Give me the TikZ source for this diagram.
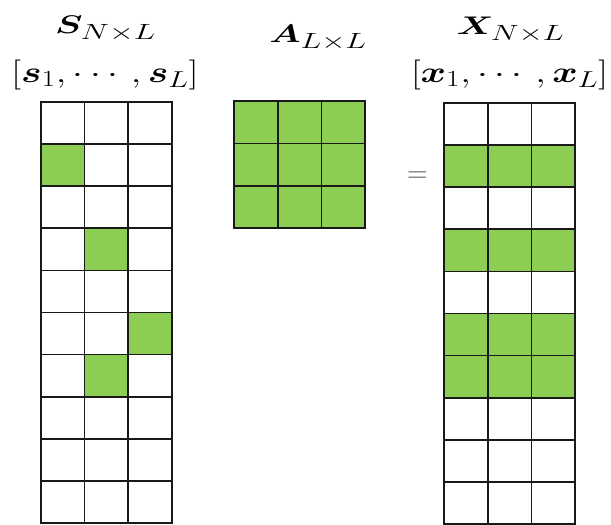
\RequirePackage{fix-cm}
\documentclass[tikz,border=0pt]{standalone}
\usepackage{amsmath,bm,graphicx}
\DeclareMathSizes{25.5}{25.5}{22}{17}
\DeclareMathSizes{30}{30}{23}{18}
\definecolor{cellgreen}{RGB}{140,206,84}
\definecolor{gridline}{RGB}{25,25,25}
\tikzset{
  gridcell/.style={draw=gridline,line width=1.7pt},
  greencell/.style={gridcell,fill=cellgreen},
  namelbl/.style={inner sep=0pt,anchor=base,font=\fontsize{25.5}{30}\selectfont},
  collbl/.style={inner sep=0pt,anchor=base,font=\fontsize{30}{34}\selectfont}
}
\newcommand{\hstretch}[2]{\scalebox{#1}[1]{#2}}
\begin{document}
\begin{tikzpicture}[x=1pt,y=-1pt]
\useasboundingbox (0,0) rectangle (611,525);
% ---------- S matrix (10 x 3) ----------
\def\cw{43.6}\def\rh{42.1}
\foreach \r in {0,...,9}{
  \foreach \c in {0,1,2}{
    \draw[gridcell] ({41+\c*\cw},{102+\r*\rh}) rectangle ++(\cw,\rh);
  }
}
\foreach \r/\c in {1/0,3/1,5/2,6/1}{
  \draw[greencell] ({41+\c*\cw},{102+\r*\rh}) rectangle ++(\cw,\rh);
}
% ---------- A matrix (3 x 3) ----------
\foreach \r in {0,1,2}{
  \foreach \c in {0,1,2}{
    \draw[greencell] ({234+\c*43.7},{101+\r*42.4}) rectangle ++(43.7,42.4);
  }
}
% ---------- X matrix (10 x 3) ----------
\foreach \r in {0,...,9}{
  \foreach \c in {0,1,2}{
    \draw[gridcell] ({444+\c*43.7},{103+\r*\rh}) rectangle ++(43.7,\rh);
  }
}
\foreach \r in {1,3,5,6}{
  \foreach \c in {0,1,2}{
    \draw[greencell] ({444+\c*43.7},{103+\r*\rh}) rectangle ++(43.7,\rh);
  }
}
% ---------- labels ----------
\node[namelbl] (sname) at (105.5,33) {\hstretch{1.45}{$\bm{S}_{N\times L}$}};
\node[collbl] (scols) at (105,82) {\hstretch{1.29}{$[\bm{s}_1,\cdots,\bm{s}_L]$}};
\node[namelbl,anchor=base east] (aname) at (367,42) {\hstretch{1.41}{$\bm{A}_{L\times L}$}};
\node[namelbl] (xname) at (510.5,34) {\hstretch{1.42}{$\bm{X}_{N\times L}$}};
\node[collbl] (xcols) at (509.5,82) {\hstretch{1.29}{$[\bm{x}_1,\cdots,\bm{x}_L]$}};
\node[inner sep=0pt,text=black!65,font=\fontsize{30}{34}\selectfont] (eq) at (417.5,177.5) {\scalebox{0.95}[1]{$=$}};
\end{tikzpicture}
\end{document}
